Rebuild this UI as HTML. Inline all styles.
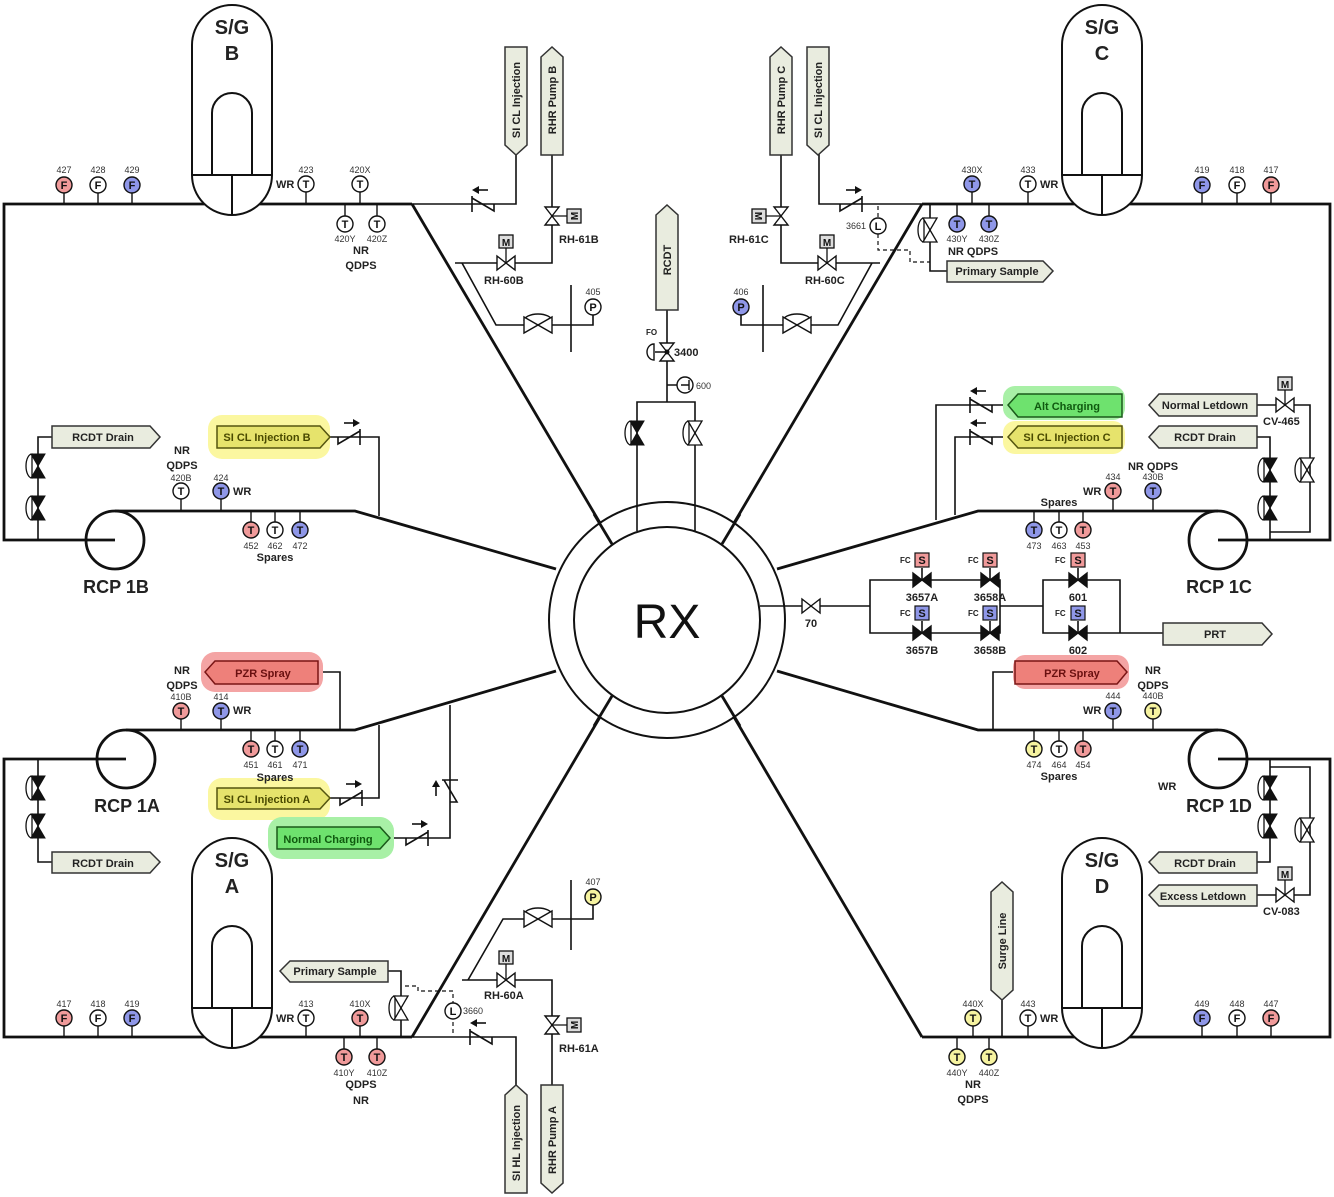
<!DOCTYPE html>
<html><head><meta charset="utf-8"><style>
html,body{margin:0;padding:0;background:#fff}
svg{display:block}
text{font-family:"Liberation Sans",sans-serif}
.b{font-weight:bold;font-size:12px;fill:#222}
.n{font-size:9px;fill:#333}
.t{font-size:11px;font-weight:bold;fill:#222}
.big{font-weight:bold;font-size:18px;fill:#222}
.il{font-size:11px;font-weight:bold;text-anchor:middle;fill:#111}
</style></head><body>
<svg width="1334" height="1197" viewBox="0 0 1334 1197" xmlns="http://www.w3.org/2000/svg">
<defs>
<g id="chk" fill="none" stroke="#111" stroke-width="1.6"><path d="M-12,0 V7 L10,-6 M10,-8 V8"/><path d="M-6,-14 H4"/><polygon points="10,-14 3,-18 3,-10" fill="#111" stroke="none"/></g>
<polygon id="gv" points="-9,-7 9,7 9,-7 -9,7" fill="#fff" stroke="#111" stroke-width="1.4"/>
<polygon id="gvb" points="-9,-7 9,7 9,-7 -9,7" fill="#111" stroke="#111" stroke-width="1.4"/>
<polygon id="gvv" points="-7,-9 7,9 -7,9 7,-9" fill="#fff" stroke="#111" stroke-width="1.4"/>
<g id="bva"><path d="M-6,-12 A6,12 0 0 0 -6,12 Z" fill="#fff" stroke="#111" stroke-width="1.3"/><polygon points="-7,-12 7,12 -7,12 7,-12" fill="#111" stroke="#111"/></g>
<g id="wva"><path d="M-6,-12 A6,12 0 0 0 -6,12 Z" fill="#fff" stroke="#111" stroke-width="1.3"/><polygon points="-7,-12 7,12 -7,12 7,-12" fill="#fff" stroke="#111" stroke-width="1.3"/></g>
<g id="ov"><path d="M-14,-4 A14,7 0 0 1 14,-4" fill="#fff" stroke="#111" stroke-width="1.4"/><polygon points="-14,-8 14,8 14,-8 -14,8" fill="#fff" stroke="#111" stroke-width="1.4"/></g>
<g id="sg"><path d="M192,175 V45 A40,40 0 0 1 272,45 V175 A40,40 0 0 1 192,175 Z" fill="#fff" stroke="#111" stroke-width="2"/><path d="M192,175 H272 M232,175 V215 M212,175 V113 A20,20 0 0 1 252,113 V175" fill="none" stroke="#111" stroke-width="2"/></g>
</defs>

<!-- main pipes -->
<g fill="none" stroke="#111" stroke-width="2.8">
<path d="M412,204 H4 V540 H115"/>
<path d="M922,204 H1330 V540 H1218"/>
<path d="M412,1037 H4 V759 H126"/>
<path d="M922,1037 H1330 V759 H1218"/>
<path d="M115,511 H355 L556,569"/>
<path d="M126,730 H355 L556,671"/>
<path d="M1218,511 H978 L777,569"/>
<path d="M1218,730 H978 L777,671"/>
<path d="M412,204 L610,540"/>
<path d="M922,204 L724,540"/>
<path d="M412,1037 L610,700"/>
<path d="M922,1037 L724,700"/>
</g>
<!-- RX -->
<circle cx="667" cy="620" r="118" fill="#fff" stroke="#111" stroke-width="2"/>
<circle cx="667" cy="620" r="93" fill="#fff" stroke="#111" stroke-width="2"/>
<text x="667" y="638" font-size="48" text-anchor="middle" fill="#111">RX</text>
<g stroke="#111" stroke-width="2.8">
<line x1="594" y1="514" x2="612" y2="544"/><line x1="740" y1="514" x2="722" y2="544"/>
<line x1="594" y1="726" x2="612" y2="696"/><line x1="740" y1="726" x2="722" y2="696"/>
</g>
<g stroke="#111" stroke-width="1.6">
<line x1="637" y1="500" x2="637" y2="531"/><line x1="695" y1="500" x2="695" y2="531"/>
</g>

<!-- RCPs -->
<g fill="none" stroke="#111" stroke-width="2.8">
<circle cx="115" cy="540" r="29"/><circle cx="126" cy="759" r="29"/>
<circle cx="1218" cy="540" r="29"/><circle cx="1218" cy="759" r="29"/>
</g>
<text x="116" y="593" class="big" text-anchor="middle">RCP 1B</text>
<text x="127" y="812" class="big" text-anchor="middle">RCP 1A</text>
<text x="1219" y="593" class="big" text-anchor="middle">RCP 1C</text>
<text x="1219" y="812" class="big" text-anchor="middle">RCP 1D</text>

<!-- steam generators -->
<use href="#sg"/><use href="#sg" transform="translate(870,0)"/>
<use href="#sg" transform="translate(0,833)"/><use href="#sg" transform="translate(870,833)"/>
<g font-size="20" font-weight="bold" text-anchor="middle" fill="#222">
<text x="232" y="34">S/G</text><text x="232" y="60">B</text>
<text x="1102" y="34">S/G</text><text x="1102" y="60">C</text>
<text x="232" y="867">S/G</text><text x="232" y="893">A</text>
<text x="1102" y="867">S/G</text><text x="1102" y="893">D</text>
</g>

<!-- thin lines -->
<g fill="none" stroke="#111" stroke-width="1.6">
<path d="M52,437 H38 V540"/>
<path d="M330,437 H379 V516"/>
<path d="M52,862 H38 V759"/>
<path d="M318,672 H340 V730"/>
<path d="M330,798 H379 V725"/>
<path d="M390,838 H450 V705"/>
<path d="M388,971 H401 V1037"/>
<path d="M412,1037 H516 V1090"/>
<path d="M552,1090 V980 H462"/>
<path d="M468,980 L503,919 H571 M571,880 V950 M571,919 H593 V905"/>
<path d="M412,204 H516 V150"/>
<path d="M552,150 V263 H455"/>
<path d="M462,263 L496,325 H571 M571,285 V352 M571,325 H593 V315"/>
<path d="M922,204 H819 V150"/>
<path d="M781,150 V263 H880"/>
<path d="M872,263 L838,325 H763 M763,285 V352 M763,325 H741 V315"/>
<path d="M930,204 V271 H947"/>
<path d="M667,310 V402 M637,500 V402 H695 V500 M667,385 H677"/>
<path d="M1008,405 H936 V520"/>
<path d="M1008,437 H955 V515"/>
<path d="M1257,405 H1310 V532 H1270"/>
<path d="M1257,437 H1270 V540"/>
<path d="M1257,862 H1270 V759"/>
<path d="M1257,895 H1310 V767 H1270"/>
<path d="M1002,1000 V1037"/>
<path d="M1015,672 H993 V730"/>
<path d="M760,606 H870 M870,580 V633 H1000 V580 Z M1000,606 H1043 M1043,580 H1120 V633 H1043 Z M1120,633 H1163"/>
<path d="M922,568 V580 M990,568 V580 M1078,568 V580 M922,621 V633 M990,621 V633 M1078,621 V633"/>
</g>
<g fill="none" stroke="#111" stroke-width="1.2" stroke-dasharray="4,3">
<path d="M878,206 V250 H910 V262 H930"/>
<path d="M405,986 H418 V991 H453 V1035"/>
</g>

<!-- valves -->
<use href="#chk" x="482" y="204" transform="translate(964,0) scale(-1,1)"/>
<use href="#chk" x="852" y="204"/>
<use href="#chk" x="350" y="437"/>
<use href="#chk" x="352" y="798"/>
<use href="#chk" x="418" y="838"/>
<use href="#chk" transform="translate(450,790) rotate(-90)"/>
<use href="#chk" x="480" y="1037" transform="translate(960,0) scale(-1,1)"/>
<use href="#chk" x="980" y="405" transform="translate(1960,0) scale(-1,1)"/>
<use href="#chk" x="980" y="437" transform="translate(1960,0) scale(-1,1)"/>

<use href="#gv" x="506" y="263"/><use href="#gv" x="827" y="263"/><use href="#gv" x="506" y="980"/>
<use href="#gvv" x="552" y="216"/><use href="#gvv" x="781" y="216"/><use href="#gvv" x="552" y="1025"/>
<use href="#gv" x="1285" y="405"/><use href="#gv" x="1285" y="895"/><use href="#gv" x="811" y="606"/>
<use href="#gvv" x="667" y="352"/>
<use href="#ov" x="538" y="325"/><use href="#ov" x="797" y="325"/><use href="#ov" x="538" y="919"/>
<use href="#bva" x="38" y="466"/><use href="#bva" x="38" y="508"/>
<use href="#bva" x="38" y="788"/><use href="#bva" x="38" y="826"/>
<use href="#bva" x="1270" y="470"/><use href="#bva" x="1270" y="508"/>
<use href="#bva" x="1270" y="788"/><use href="#bva" x="1270" y="826"/>
<use href="#wva" x="1307" y="470"/><use href="#wva" x="1307" y="830"/>
<use href="#bva" x="637" y="433"/><use href="#wva" x="695" y="433"/>
<use href="#wva" x="930" y="230"/><use href="#wva" x="401" y="1008"/>
<use href="#gvb" x="922" y="580"/><use href="#gvb" x="990" y="580"/><use href="#gvb" x="1078" y="580"/>
<use href="#gvb" x="922" y="633"/><use href="#gvb" x="990" y="633"/><use href="#gvb" x="1078" y="633"/>
<path d="M667,352 H655 M654,344 A7,8 0 0 0 654,360 Z" fill="#fff" stroke="#111" stroke-width="1.4"/>
<circle cx="667" cy="352" r="2.5" fill="#111"/>
<text x="646" y="335" font-size="8" font-weight="bold" fill="#222">FO</text>
<text x="674" y="356" class="t">3400</text>
<circle cx="685" cy="385" r="8" fill="#fff" stroke="#111" stroke-width="1.4"/>
<path d="M681,385 H689 M689,380 V390" stroke="#111" stroke-width="1.4"/>
<text x="696" y="389" class="n">600</text>

<g fill="#ddd" stroke="#111" stroke-width="1.3">
<rect x="499" y="235" width="14" height="13"/><rect x="820" y="235" width="14" height="13"/>
<rect x="567" y="209" width="14" height="14"/><rect x="752" y="209" width="14" height="14"/>
<rect x="499" y="951" width="14" height="13"/><rect x="567" y="1018" width="14" height="14"/>
<rect x="1278" y="377" width="14" height="13"/><rect x="1278" y="867" width="14" height="13"/>
</g>
<path d="M506,248 V263 M827,248 V263 M552,216 H567 M781,216 H766 M506,964 V980 M552,1025 H567 M1285,390 V405 M1285,880 V895" stroke="#111" stroke-width="1.3"/>
<g font-size="10" font-weight="bold" text-anchor="middle" fill="#111">
<text x="506" y="246">M</text><text x="827" y="246">M</text><text x="506" y="962">M</text>
<text x="1285" y="388">M</text><text x="1285" y="878">M</text>
<text transform="translate(574,216) rotate(-90)" y="4">M</text>
<text transform="translate(759,216) rotate(90)" y="4">M</text>
<text transform="translate(574,1025) rotate(-90)" y="4">M</text>
</g>
<g class="t">
<text x="559" y="243">RH-61B</text><text x="484" y="284">RH-60B</text>
<text x="729" y="243">RH-61C</text><text x="805" y="284">RH-60C</text>
<text x="484" y="999">RH-60A</text><text x="559" y="1052">RH-61A</text>
<text x="1263" y="425">CV-465</text><text x="1263" y="915">CV-083</text>
<text x="811" y="627" text-anchor="middle">70</text>
<text x="922" y="601" text-anchor="middle">3657A</text><text x="990" y="601" text-anchor="middle">3658A</text><text x="1078" y="601" text-anchor="middle">601</text>
<text x="922" y="654" text-anchor="middle">3657B</text><text x="990" y="654" text-anchor="middle">3658B</text><text x="1078" y="654" text-anchor="middle">602</text>
</g>
<g stroke="#111" stroke-width="1.2">
<rect x="915" y="553" width="14" height="14" fill="#f09a9a"/><rect x="983" y="553" width="14" height="14" fill="#f09a9a"/><rect x="1071" y="553" width="14" height="14" fill="#f09a9a"/>
<rect x="915" y="606" width="14" height="14" fill="#8f97e8"/><rect x="983" y="606" width="14" height="14" fill="#8f97e8"/><rect x="1071" y="606" width="14" height="14" fill="#8f97e8"/>
</g>
<g font-size="11" font-weight="bold" text-anchor="middle" fill="#111">
<text x="922" y="564">S</text><text x="990" y="564">S</text><text x="1078" y="564">S</text>
<text x="922" y="617">S</text><text x="990" y="617">S</text><text x="1078" y="617">S</text>
</g>
<g font-size="8" font-weight="bold" fill="#222">
<text x="900" y="563">FC</text><text x="968" y="563">FC</text><text x="1055" y="563">FC</text>
<text x="900" y="616">FC</text><text x="968" y="616">FC</text><text x="1055" y="616">FC</text>
</g>

<circle cx="878" cy="226" r="8" fill="#fff" stroke="#111" stroke-width="1.4"/><text x="878" y="230" class="il">L</text><text x="846" y="229" class="n">3661</text>
<circle cx="453" cy="1011" r="8" fill="#fff" stroke="#111" stroke-width="1.4"/><text x="453" y="1015" class="il">L</text><text x="463" y="1014" class="n">3660</text>

<rect x="208" y="415" width="122" height="44" rx="14" fill="#fbf7a0"/>
<rect x="208" y="778" width="122" height="42" rx="14" fill="#fbf7a0"/>
<rect x="268" y="817" width="126" height="42" rx="14" fill="#a8f0a6"/>
<rect x="201" y="652" width="122" height="40" rx="14" fill="#f4a4a4"/>
<rect x="1003" y="386" width="122" height="34" rx="12" fill="#a8f0a6"/>
<rect x="1003" y="421" width="122" height="33" rx="12" fill="#fbf7a0"/>
<rect x="1013" y="655" width="116" height="34" rx="12" fill="#f4a4a4"/>

<g stroke-width="1.5">
<polygon points="52,426 150,426 160,437 150,448 52,448" fill="#e9ecdf" stroke="#333"/>
<polygon points="52,852 150,852 160,862 150,873 52,873" fill="#e9ecdf" stroke="#333"/>
<polygon points="217,426 320,426 330,437 320,448 217,448" fill="#e6e36c" stroke="#55550f"/>
<polygon points="217,788 320,788 330,798 320,809 217,809" fill="#e6e36c" stroke="#55550f"/>
<polygon points="277,827 380,827 390,838 380,849 277,849" fill="#6ee26e" stroke="#1a5a1a"/>
<polygon points="215,661 318,661 318,684 215,684 205,672" fill="#ee807a" stroke="#7a1515"/>
<polygon points="1018,394 1122,394 1122,417 1018,417 1008,405" fill="#6ee26e" stroke="#1a5a1a"/>
<polygon points="1018,426 1122,426 1122,448 1018,448 1008,437" fill="#e6e36c" stroke="#55550f"/>
<polygon points="1015,661 1117,661 1127,672 1117,684 1015,684" fill="#ee807a" stroke="#7a1515"/>
<polygon points="1159,394 1257,394 1257,416 1159,416 1149,405" fill="#e9ecdf" stroke="#333"/>
<polygon points="1159,426 1257,426 1257,448 1159,448 1149,437" fill="#e9ecdf" stroke="#333"/>
<polygon points="1159,852 1257,852 1257,873 1159,873 1149,862" fill="#e9ecdf" stroke="#333"/>
<polygon points="1159,885 1257,885 1257,906 1159,906 1149,895" fill="#e9ecdf" stroke="#333"/>
<polygon points="1163,623 1262,623 1272,634 1262,645 1163,645" fill="#e9ecdf" stroke="#333"/>
<polygon points="947,261 1043,261 1053,271 1043,282 947,282" fill="#e9ecdf" stroke="#333"/>
<polygon points="290,961 388,961 388,982 290,982 280,971" fill="#e9ecdf" stroke="#333"/>
<polygon points="505,47 527,47 527,145 516,155 505,145" fill="#e9ecdf" stroke="#333"/>
<polygon points="541,57 552,47 563,57 563,155 541,155" fill="#e9ecdf" stroke="#333"/>
<polygon points="770,57 781,47 792,57 792,155 770,155" fill="#e9ecdf" stroke="#333"/>
<polygon points="807,47 829,47 829,145 818,155 807,145" fill="#e9ecdf" stroke="#333"/>
<polygon points="656,215 667,205 678,215 678,310 656,310" fill="#e9ecdf" stroke="#333"/>
<polygon points="505,1095 516,1085 527,1095 527,1193 505,1193" fill="#e9ecdf" stroke="#333"/>
<polygon points="541,1085 563,1085 563,1183 552,1193 541,1183" fill="#e9ecdf" stroke="#333"/>
<polygon points="991,892 1002,882 1013,892 1013,990 1002,1000 991,990" fill="#e9ecdf" stroke="#333"/>
</g>
<g class="t" text-anchor="middle">
<text x="103" y="441">RCDT Drain</text><text x="103" y="867">RCDT Drain</text>
<text x="267" y="441" fill="#4a4a00">SI CL Injection B</text>
<text x="267" y="803" fill="#4a4a00">SI CL Injection A</text>
<text x="328" y="843" fill="#0f5a0f">Normal Charging</text>
<text x="263" y="677" fill="#6a1010">PZR Spray</text>
<text x="1067" y="410" fill="#0f5a0f">Alt Charging</text>
<text x="1067" y="441" fill="#4a4a00">SI CL Injection C</text>
<text x="1072" y="677" fill="#6a1010">PZR Spray</text>
<text x="1205" y="409">Normal Letdown</text>
<text x="1205" y="441">RCDT Drain</text>
<text x="1205" y="867">RCDT Drain</text>
<text x="1203" y="900">Excess Letdown</text>
<text x="1215" y="638">PRT</text>
<text x="997" y="275">Primary Sample</text>
<text x="335" y="975">Primary Sample</text>
<text transform="translate(520,100) rotate(-90)">SI CL Injection</text>
<text transform="translate(556,100) rotate(-90)">RHR Pump B</text>
<text transform="translate(785,100) rotate(-90)">RHR Pump C</text>
<text transform="translate(822,100) rotate(-90)">SI CL Injection</text>
<text transform="translate(671,260) rotate(-90)">RCDT</text>
<text transform="translate(520,1143) rotate(-90)">SI HL Injection</text>
<text transform="translate(556,1140) rotate(-90)">RHR Pump A</text>
<text transform="translate(1006,941) rotate(-90)">Surge Line</text>
</g>

<g stroke="#111" stroke-width="1.4">
<path d="M64,193 V204 M98,193 V204 M132,193 V204 M306,192 V204 M360,192 V204 M345,204 V216 M377,204 V216"/>
<path d="M972,192 V204 M1028,192 V204 M1202,193 V204 M1237,193 V204 M1271,193 V204 M957,204 V216 M989,204 V216"/>
<path d="M64,1026 V1037 M98,1026 V1037 M132,1026 V1037 M306,1026 V1037 M360,1026 V1037 M344,1037 V1049 M377,1037 V1049"/>
<path d="M973,1026 V1037 M1028,1026 V1037 M1202,1026 V1037 M1237,1026 V1037 M1271,1026 V1037 M957,1037 V1049 M989,1037 V1049"/>
<path d="M181,499 V511 M221,499 V511 M251,511 V522 M275,511 V522 M300,511 V522"/>
<path d="M181,719 V730 M221,719 V730 M251,730 V741 M275,730 V741 M300,730 V741"/>
<path d="M1113,499 V511 M1153,499 V511 M1034,511 V522 M1059,511 V522 M1083,511 V522"/>
<path d="M1113,719 V730 M1153,719 V730 M1034,730 V741 M1059,730 V741 M1083,730 V741"/>
</g>
<g stroke="#111" stroke-width="1.4">
<circle cx="64" cy="185" r="8" fill="#f09a9a"/><circle cx="98" cy="185" r="8" fill="#fff"/><circle cx="132" cy="185" r="8" fill="#8f97e8"/>
<circle cx="306" cy="184" r="8" fill="#fff"/><circle cx="360" cy="184" r="8" fill="#fff"/><circle cx="345" cy="224" r="8" fill="#fff"/><circle cx="377" cy="224" r="8" fill="#fff"/>
<circle cx="972" cy="184" r="8" fill="#8f97e8"/><circle cx="1028" cy="184" r="8" fill="#fff"/><circle cx="1202" cy="185" r="8" fill="#8f97e8"/><circle cx="1237" cy="185" r="8" fill="#fff"/><circle cx="1271" cy="185" r="8" fill="#f09a9a"/>
<circle cx="957" cy="224" r="8" fill="#8f97e8"/><circle cx="989" cy="224" r="8" fill="#8f97e8"/>
<circle cx="64" cy="1018" r="8" fill="#f09a9a"/><circle cx="98" cy="1018" r="8" fill="#fff"/><circle cx="132" cy="1018" r="8" fill="#8f97e8"/>
<circle cx="306" cy="1018" r="8" fill="#fff"/><circle cx="360" cy="1018" r="8" fill="#f09a9a"/><circle cx="344" cy="1057" r="8" fill="#f09a9a"/><circle cx="377" cy="1057" r="8" fill="#f09a9a"/>
<circle cx="973" cy="1018" r="8" fill="#f6f3a0"/><circle cx="1028" cy="1018" r="8" fill="#fff"/><circle cx="1202" cy="1018" r="8" fill="#8f97e8"/><circle cx="1237" cy="1018" r="8" fill="#fff"/><circle cx="1271" cy="1018" r="8" fill="#f09a9a"/>
<circle cx="957" cy="1057" r="8" fill="#f6f3a0"/><circle cx="989" cy="1057" r="8" fill="#f6f3a0"/>
<circle cx="181" cy="491" r="8" fill="#fff"/><circle cx="221" cy="491" r="8" fill="#8f97e8"/>
<circle cx="251" cy="530" r="8" fill="#f09a9a"/><circle cx="275" cy="530" r="8" fill="#fff"/><circle cx="300" cy="530" r="8" fill="#8f97e8"/>
<circle cx="181" cy="711" r="8" fill="#f09a9a"/><circle cx="221" cy="711" r="8" fill="#8f97e8"/>
<circle cx="251" cy="749" r="8" fill="#f09a9a"/><circle cx="275" cy="749" r="8" fill="#fff"/><circle cx="300" cy="749" r="8" fill="#8f97e8"/>
<circle cx="1113" cy="491" r="8" fill="#f09a9a"/><circle cx="1153" cy="491" r="8" fill="#8f97e8"/>
<circle cx="1034" cy="530" r="8" fill="#8f97e8"/><circle cx="1059" cy="530" r="8" fill="#fff"/><circle cx="1083" cy="530" r="8" fill="#f09a9a"/>
<circle cx="1113" cy="711" r="8" fill="#8f97e8"/><circle cx="1153" cy="711" r="8" fill="#f6f3a0"/>
<circle cx="1034" cy="749" r="8" fill="#f6f3a0"/><circle cx="1059" cy="749" r="8" fill="#fff"/><circle cx="1083" cy="749" r="8" fill="#f09a9a"/>
<circle cx="593" cy="307" r="8" fill="#fff"/><circle cx="741" cy="307" r="8" fill="#8f97e8"/><circle cx="593" cy="897" r="8" fill="#f6f3a0"/>
</g>
<g class="il">
<text x="64" y="189">F</text><text x="98" y="189">F</text><text x="132" y="189">F</text>
<text x="306" y="188">T</text><text x="360" y="188">T</text><text x="345" y="228">T</text><text x="377" y="228">T</text>
<text x="972" y="188">T</text><text x="1028" y="188">T</text><text x="1202" y="189">F</text><text x="1237" y="189">F</text><text x="1271" y="189">F</text>
<text x="957" y="228">T</text><text x="989" y="228">T</text>
<text x="64" y="1022">F</text><text x="98" y="1022">F</text><text x="132" y="1022">F</text>
<text x="306" y="1022">T</text><text x="360" y="1022">T</text><text x="344" y="1061">T</text><text x="377" y="1061">T</text>
<text x="973" y="1022">T</text><text x="1028" y="1022">T</text><text x="1202" y="1022">F</text><text x="1237" y="1022">F</text><text x="1271" y="1022">F</text>
<text x="957" y="1061">T</text><text x="989" y="1061">T</text>
<text x="181" y="495">T</text><text x="221" y="495">T</text><text x="251" y="534">T</text><text x="275" y="534">T</text><text x="300" y="534">T</text>
<text x="181" y="715">T</text><text x="221" y="715">T</text><text x="251" y="753">T</text><text x="275" y="753">T</text><text x="300" y="753">T</text>
<text x="1113" y="495">T</text><text x="1153" y="495">T</text><text x="1034" y="534">T</text><text x="1059" y="534">T</text><text x="1083" y="534">T</text>
<text x="1113" y="715">T</text><text x="1153" y="715">T</text><text x="1034" y="753">T</text><text x="1059" y="753">T</text><text x="1083" y="753">T</text>
<text x="593" y="311">P</text><text x="741" y="311">P</text><text x="593" y="901">P</text>
</g>
<g class="n" text-anchor="middle">
<text x="64" y="173">427</text><text x="98" y="173">428</text><text x="132" y="173">429</text>
<text x="306" y="173">423</text><text x="360" y="173">420X</text><text x="345" y="242">420Y</text><text x="377" y="242">420Z</text>
<text x="972" y="173">430X</text><text x="1028" y="173">433</text><text x="1202" y="173">419</text><text x="1237" y="173">418</text><text x="1271" y="173">417</text>
<text x="957" y="242">430Y</text><text x="989" y="242">430Z</text>
<text x="64" y="1007">417</text><text x="98" y="1007">418</text><text x="132" y="1007">419</text>
<text x="306" y="1007">413</text><text x="360" y="1007">410X</text><text x="344" y="1076">410Y</text><text x="377" y="1076">410Z</text>
<text x="973" y="1007">440X</text><text x="1028" y="1007">443</text><text x="1202" y="1007">449</text><text x="1237" y="1007">448</text><text x="1271" y="1007">447</text>
<text x="957" y="1076">440Y</text><text x="989" y="1076">440Z</text>
<text x="181" y="481">420B</text><text x="221" y="481">424</text>
<text x="251" y="549">452</text><text x="275" y="549">462</text><text x="300" y="549">472</text>
<text x="181" y="700">410B</text><text x="221" y="700">414</text>
<text x="251" y="768">451</text><text x="275" y="768">461</text><text x="300" y="768">471</text>
<text x="1113" y="480">434</text><text x="1153" y="480">430B</text>
<text x="1034" y="549">473</text><text x="1059" y="549">463</text><text x="1083" y="549">453</text>
<text x="1113" y="699">444</text><text x="1153" y="699">440B</text>
<text x="1034" y="768">474</text><text x="1059" y="768">464</text><text x="1083" y="768">454</text>
<text x="593" y="295">405</text><text x="741" y="295">406</text><text x="593" y="885">407</text>
</g>
<g class="t">
<text x="276" y="188">WR</text><text x="1040" y="188">WR</text><text x="276" y="1022">WR</text><text x="1040" y="1022">WR</text>
<text x="233" y="495">WR</text><text x="233" y="714">WR</text><text x="1083" y="495">WR</text><text x="1083" y="714">WR</text>
<text x="1158" y="790">WR</text>
</g>
<g class="t" text-anchor="middle">
<text x="361" y="254">NR</text><text x="361" y="269">QDPS</text>
<text x="973" y="255">NR QDPS</text>
<text x="361" y="1088">QDPS</text><text x="361" y="1104">NR</text>
<text x="973" y="1088">NR</text><text x="973" y="1103">QDPS</text>
<text x="182" y="454">NR</text><text x="182" y="469">QDPS</text>
<text x="275" y="561">Spares</text>
<text x="182" y="674">NR</text><text x="182" y="689">QDPS</text>
<text x="275" y="781">Spares</text>
<text x="1059" y="506">Spares</text><text x="1153" y="470">NR QDPS</text>
<text x="1153" y="674">NR</text><text x="1153" y="689">QDPS</text>
<text x="1059" y="780">Spares</text>
</g>
</svg>
</body></html>
